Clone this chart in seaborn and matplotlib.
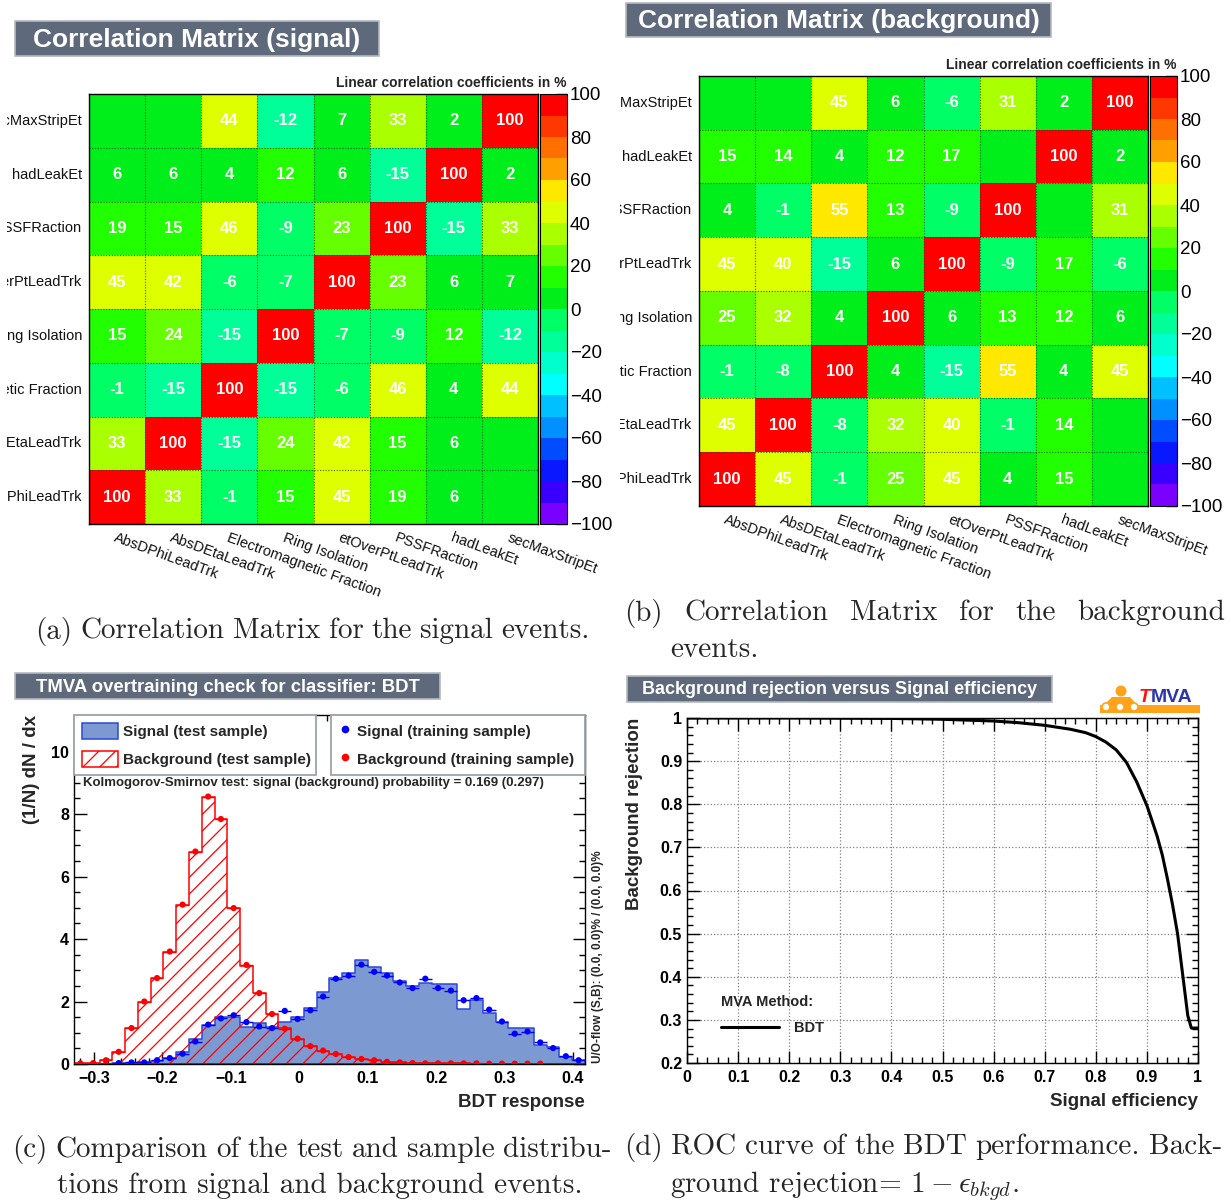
import numpy as np
import pandas as pd
import matplotlib
matplotlib.use("Agg")
import matplotlib.pyplot as plt
import seaborn as sns
from matplotlib.colors import ListedColormap
from matplotlib.patches import Rectangle, Patch, Ellipse, Polygon
from matplotlib.lines import Line2D
from matplotlib.transforms import Bbox, TransformedBbox
from matplotlib.ticker import MultipleLocator, FuncFormatter

# ---------------- data ----------------
variables = ["AbsDPhiLeadTrk", "AbsDEtaLeadTrk", "Electromagnetic Fraction",
             "Ring Isolation", "etOverPtLeadTrk", "PSSFRaction", "hadLeakEt",
             "secMaxStripEt"]

# linear correlation coefficients in %, rows/cols in the order of `variables`
signal_corr = [
    [100, 33, -1, 15, 45, 19, 6, 0],
    [33, 100, -15, 24, 42, 15, 6, 0],
    [-1, -15, 100, -15, -6, 46, 4, 44],
    [15, 24, -15, 100, -7, -9, 12, -12],
    [45, 42, -6, -7, 100, 23, 6, 7],
    [19, 15, 46, -9, 23, 100, -15, 33],
    [6, 6, 4, 12, 6, -15, 100, 2],
    [0, 0, 44, -12, 7, 33, 2, 100],
]
background_corr = [
    [100, 45, -1, 25, 45, 4, 15, 0],
    [45, 100, -8, 32, 40, -1, 14, 0],
    [-1, -8, 100, 4, -15, 55, 4, 45],
    [25, 32, 4, 100, 6, 13, 12, 6],
    [45, 40, -15, 6, 100, -9, 17, -6],
    [4, -1, 55, 13, -9, 100, 0, 31],
    [15, 14, 4, 12, 17, 0, 100, 2],
    [0, 0, 45, 6, -6, 31, 2, 100],
]
palette_colors = ["#7a00ff", "#3a00ff", "#0a18ff", "#004cff", "#0090ff",
                  "#00c0ff", "#00ffff", "#00ffcc", "#00ff99", "#00ff66",
                  "#00ee1a", "#22ff00", "#66ff00", "#aaff00", "#ddff00",
                  "#ffe800", "#ffa000", "#ff7000", "#ff3800", "#ff0000"]
colorbar_ticks = [-100, -80, -60, -40, -20, 0, 20, 40, 60, 80, 100]

# BDT response distributions, 40 bins
bdt_range = (-0.329, 0.4175)
n_bins = 40
signal_test = [0.0, 0.0, 0.0, 0.02, 0.04, 0.05, 0.1, 0.2, 0.37, 0.8,
               1.26, 1.5, 1.52, 1.2, 1.32, 1.2, 1.36, 1.5, 1.8, 2.3,
               2.75, 2.9, 3.33, 3.1, 2.9, 2.65, 2.5, 2.6, 2.55, 2.55,
               1.75, 2.05, 1.63, 1.33, 1.15, 1.15, 0.62, 0.56, 0.22, 0.14]
signal_train = [0.0, 0.0, 0.0, 0.03, 0.05, 0.05, 0.12, 0.19, 0.33, 0.72,
                1.26, 1.46, 1.56, 1.34, 1.2, 1.15, 1.7, 1.44, 1.72, 2.16,
                2.73, 2.83, 3.18, 2.95, 2.83, 2.61, 2.43, 2.73, 2.43, 2.35,
                2.04, 2.11, 1.74, 1.36, 0.97, 1.04, 0.69, 0.51, 0.25, 0.12]
background_test = [0.02, 0.03, 0.12, 0.4, 1.15, 2.0, 2.75, 3.6, 5.1, 6.8,
                   8.55, 7.85, 5.0, 3.15, 2.27, 1.6, 1.15, 0.8, 0.57, 0.43,
                   0.32, 0.22, 0.16, 0.12, 0.08, 0.05, 0.04, 0.03, 0.02, 0.02,
                   0.02, 0.01, 0.01, 0.01, 0.01, 0.01, 0.01, 0.0, 0.0, 0.0]
background_train = [0.02, 0.03, 0.12, 0.39, 1.15, 2.0, 2.75, 3.6, 5.1, 6.8,
                    8.56, 7.84, 4.99, 3.17, 2.27, 1.6, 1.13, 0.81, 0.57, 0.43,
                    0.32, 0.22, 0.16, 0.12, 0.07, 0.05, 0.03, 0.02, 0.02, 0.02,
                    0.02, 0.02, 0.01, 0.01, 0.01, 0.01, 0.01, 0.0, 0.0, 0.0]

# ROC curve
roc_signal_eff = [0.0, 0.1, 0.2, 0.3, 0.4, 0.5, 0.55, 0.6, 0.65, 0.7, 0.75,
                  0.78, 0.8, 0.82, 0.84, 0.86, 0.88, 0.9, 0.91, 0.92, 0.93,
                  0.94, 0.95, 0.96, 0.97, 0.98, 0.987, 1.0]
roc_background_rej = [1.0, 1.0, 1.0, 0.9995, 0.999, 0.997, 0.995, 0.993,
                      0.989, 0.983, 0.974, 0.966, 0.957, 0.944, 0.926, 0.897,
                      0.852, 0.797, 0.762, 0.726, 0.683, 0.628, 0.568, 0.5,
                      0.405, 0.31, 0.281, 0.281]

# ---------------- style ----------------
W, H = 1231, 1203
sns.set_theme(style="ticks")
plt.rcParams["font.family"] = ["Liberation Sans", "DejaVu Sans"]
plt.rcParams["mathtext.fontset"] = "cm"
plt.rcParams["hatch.color"] = "#ff0000"
plt.rcParams["hatch.linewidth"] = 0.9
plt.rcParams["axes.linewidth"] = 1.0
plt.rcParams["axes.edgecolor"] = "black"

fig = plt.figure(figsize=(W / 100, H / 100), dpi=100, facecolor="white")


def rect(x0, y0, x1, y1):
    return [x0 / W, 1 - y1 / H, (x1 - x0) / W, (y1 - y0) / H]


def fx(x):
    return x / W


def fy(y):
    return 1 - y / H


def title_box(x0, y0, x1, y1, text, size):
    fig.add_artist(Rectangle((fx(x0), fy(y1)), (x1 - x0) / W, (y1 - y0) / H,
                             transform=fig.transFigure, facecolor="#5e6a7c",
                             edgecolor="#b4bac2", lw=1.2))
    fig.text(fx((x0 + x1) / 2), fy((y0 + y1) / 2 + 1), text, color="white",
             fontsize=size, fontweight="bold", ha="center", va="center")


def root_number(v, _pos=None):
    v = round(v, 6)
    if abs(v) < 1e-9:
        return "0"
    return f"{v:g}".replace("-", "\u2212")


def root_ticks(ax, xmaj, xmin, ymaj, ymin):
    ax.xaxis.set_major_locator(MultipleLocator(xmaj))
    ax.xaxis.set_minor_locator(MultipleLocator(xmin))
    ax.yaxis.set_major_locator(MultipleLocator(ymaj))
    ax.yaxis.set_minor_locator(MultipleLocator(ymin))
    ax.xaxis.set_major_formatter(FuncFormatter(root_number))
    ax.yaxis.set_major_formatter(FuncFormatter(root_number))
    ax.tick_params(which="both", direction="in", top=True, right=True,
                   color="black", labelsize=11.5, labelcolor="black")
    ax.tick_params(which="major", length=9, width=1)
    ax.tick_params(which="minor", length=4.5, width=1)
    ax.tick_params(axis="x", pad=5)
    for lab in ax.get_xticklabels() + ax.get_yticklabels():
        lab.set_fontweight("bold")
    for s in ax.spines.values():
        s.set_visible(True)
        s.set_color("black")
        s.set_linewidth(1)


corr_cmap = ListedColormap(palette_colors)


def correlation_panel(values, heat_px, cbar_px, label_px, clip_x):
    ax = fig.add_axes(rect(*heat_px))
    cax = fig.add_axes(rect(*cbar_px))
    shown = np.array(values, dtype=float)[::-1]
    cell_text = np.where(shown == 0, "", shown.astype(int).astype(str))
    sns.heatmap(shown, ax=ax, cbar_ax=cax, cmap=corr_cmap, vmin=-100, vmax=100,
                annot=cell_text, fmt="",
                annot_kws={"color": "white", "fontsize": 12,
                           "fontweight": "bold"},
                linewidths=0,
                xticklabels=variables, yticklabels=variables[::-1])
    # dotted cell borders
    for k in range(1, len(variables)):
        ax.axhline(k, color="#1e3c1e", lw=0.8, ls=(0, (1, 1.5)), alpha=0.8)
        ax.axvline(k, color="#1e3c1e", lw=0.8, ls=(0, (1, 1.5)), alpha=0.8)
    ax.tick_params(length=0, pad=5)
    for lab in ax.get_xticklabels():
        lab.set(rotation=-20, ha="left", va="top", rotation_mode="anchor",
                fontsize=10.5, color="#111111")
    clip = TransformedBbox(Bbox([[fx(clip_x), 0], [1, 1]]), fig.transFigure)
    for lab in ax.get_yticklabels():
        lab.set(rotation=0, ha="right", va="center", fontsize=10.5,
                color="#111111")
        lab.set_clip_box(clip)
        lab.set_clip_on(True)
    for s in ax.spines.values():
        s.set_visible(True)
        s.set_color("black")
        s.set_linewidth(1)
    cbar = ax.collections[0].colorbar
    cbar.set_ticks(colorbar_ticks)
    cbar.outline.set_linewidth(0.8)
    cbar.outline.set_edgecolor("black")
    cax.tick_params(direction="in", length=8, width=1, labelsize=13.5, pad=2,
                    color="#222222", labelcolor="black")
    fig.text(fx(label_px[0]), fy(label_px[1]),
             "Linear correlation coefficients in %", ha="right", va="center",
             fontsize=10, fontweight="bold")


# ---------------- (a) / (b) correlation matrices ----------------
title_box(15, 21, 379, 56, "Correlation Matrix (signal)", 19)
correlation_panel(signal_corr, (89, 94, 538, 524), (540, 94, 567, 524),
                  (566, 83), 7)

title_box(626, 3, 1051, 37, "Correlation Matrix (background)", 19)
correlation_panel(background_corr, (699, 76, 1148, 506), (1150, 76, 1177, 506),
                  (1177, 65), 620)

# ---------------- (c) overtraining check ----------------
title_box(15, 673, 440, 699, "TMVA overtraining check for classifier: BDT", 13.3)
axc = fig.add_axes(rect(74, 715, 585, 1064))
edges = np.linspace(bdt_range[0], bdt_range[1], n_bins + 1)
centers = 0.5 * (edges[:-1] + edges[1:])
half_width = 0.5 * (edges[1] - edges[0])
bdt = pd.DataFrame({"response": centers,
                    "signal_test": signal_test, "signal_train": signal_train,
                    "background_test": background_test,
                    "background_train": background_train})

sig_fill, sig_line = "#7d99d1", "#2c48d8"
sns.histplot(data=bdt, x="response", weights="signal_test", bins=n_bins,
             binrange=bdt_range, element="step", fill=True, color=sig_fill,
             facecolor=sig_fill, edgecolor=sig_line, linewidth=1.1, ax=axc)
sns.histplot(data=bdt, x="response", weights="background_test", bins=n_bins,
             binrange=bdt_range, element="step", fill=True, color="#ff0000",
             facecolor="none", edgecolor="#ff0000", hatch="//",
             linewidth=1.1, ax=axc)
for col, colr in [("signal_train", "#0000ff"), ("background_train", "#ff0000")]:
    pts = bdt[bdt[col] > 0]
    axc.errorbar(pts["response"], pts[col], xerr=half_width, fmt="none",
                 ecolor=colr, elinewidth=1, zorder=4)
    sns.scatterplot(data=pts, x="response", y=col, color=colr, s=20,
                    edgecolor="none", ax=axc, zorder=5)

axc.set_xlim(*bdt_range)
axc.set_ylim(0, 11.17)
root_ticks(axc, 0.1, 0.02, 2, 0.5)
axc.set_xlabel("BDT response", loc="right", fontsize=13.5, fontweight="bold")
axc.xaxis.set_label_coords(1.0, -0.109)
axc.xaxis.label.set(va="center")
axc.set_ylabel("(1/N) dN / dx", fontsize=13.5, fontweight="bold")
axc.yaxis.label.set(rotation_mode="default", ha="center", va="top")
axc.yaxis.set_label_coords(-0.084, 1.0)

legend_font = {"weight": "bold", "size": 11}
leg1 = axc.legend(
    [Patch(facecolor=sig_fill, edgecolor=sig_line, lw=1.1),
     Patch(facecolor="white", edgecolor="#ff0000", hatch="//", lw=1.1)],
    ["Signal (test sample)", "Background (test sample)"],
    loc="upper left", bbox_to_anchor=(0, 0, (316 - 74) / 511, 1), mode="expand",
    borderaxespad=0, prop=legend_font, fancybox=False, framealpha=1,
    handlelength=2.4, handleheight=1.3, handletextpad=0.3, labelspacing=0.75,
    borderpad=0.5)
leg1.get_frame().set(edgecolor="#9ca3ab", linewidth=1.3)
axc.add_artist(leg1)
leg2 = axc.legend(
    [Line2D([], [], marker="o", ls="none", color="#0000ff", ms=4.5),
     Line2D([], [], marker="o", ls="none", color="#ff0000", ms=4.5)],
    ["Signal (training sample)", "Background (training sample)"],
    loc="upper left", bbox_to_anchor=((331 - 74) / 511, 0, (585 - 331) / 511, 1),
    mode="expand", borderaxespad=0, prop=legend_font, fancybox=False,
    framealpha=1, handlelength=0.8, handleheight=1.3, handletextpad=0.4,
    labelspacing=0.75, borderpad=0.5)
leg2.get_frame().set(edgecolor="#9ca3ab", linewidth=1.3)

fig.text(fx(83), fy(783),
         "Kolmogorov-Smirnov test: signal (background) probability = 0.169 (0.297)",
         ha="left", va="center", fontsize=9.5, fontweight="bold")
fig.text(fx(598), fy(1063), "U/O-flow (S,B): (0.0, 0.0)% / (0.0, 0.0)%",
         rotation=90, ha="center", va="bottom", fontsize=8.5, fontweight="bold")

# ---------------- (d) ROC curve ----------------
title_box(627, 676, 1052, 702, "Background rejection versus Signal efficiency", 13)
axd = fig.add_axes(rect(687, 718, 1198, 1063))
roc = pd.DataFrame({"eff": roc_signal_eff, "rej": roc_background_rej})
sns.lineplot(data=roc, x="eff", y="rej", color="black", linewidth=2.2, ax=axd)
axd.set_xlim(0, 1)
axd.set_ylim(0.2, 1)
root_ticks(axd, 0.1, 0.02, 0.1, 0.02)
axd.grid(True, which="major", linestyle=":", color="#808080", linewidth=0.9)
axd.set_xlabel("Signal efficiency", loc="right", fontsize=13.5, fontweight="bold")
axd.xaxis.set_label_coords(1.0, -0.113)
axd.xaxis.label.set(va="center")
axd.set_ylabel("Background rejection", fontsize=13.5, fontweight="bold")
axd.yaxis.label.set(rotation_mode="default", ha="center", va="top")
axd.yaxis.set_label_coords(-0.103, 1.0)
axd.legend([Line2D([], [], color="black", lw=2.2)], ["BDT"],
           title="MVA Method:", loc="upper left",
           bbox_to_anchor=((721 - 687) / 511, (1063 - 995) / 345),
           frameon=False, prop={"weight": "bold", "size": 10.5},
           title_fontproperties={"weight": "bold", "size": 10.5},
           alignment="left", handlelength=4.0, handletextpad=1.0,
           labelspacing=0.8, borderaxespad=0, borderpad=0)

# TMVA logo
logo_orange = "#ffa31a"
fig.add_artist(Rectangle((fx(1100), fy(713)), 100 / W, 8 / H,
                         transform=fig.transFigure, color=logo_orange, lw=0))
fig.add_artist(Polygon([[fx(1103), fy(706)], [fx(1112), fy(697)],
                        [fx(1130), fy(697)], [fx(1138), fy(706)]],
                       closed=True, transform=fig.transFigure,
                       color=logo_orange, lw=0))
fig.add_artist(Ellipse((fx(1121), fy(691)), 11 / W, 11 / H,
                       transform=fig.transFigure, color=logo_orange, lw=0))
for cx in (1106, 1120, 1134):
    fig.add_artist(Ellipse((fx(cx), fy(707)), 8 / W, 8 / H,
                           transform=fig.transFigure, facecolor="white",
                           edgecolor=logo_orange, lw=1.2))
fig.text(fx(1139), fy(697), "T", color="#ff1010", fontsize=14,
         fontweight="bold", fontstyle="italic", ha="left", va="center")
fig.text(fx(1151), fy(697), "MVA", color="#2a36a8", fontsize=14,
         fontweight="bold", ha="left", va="center")

# ---------------- captions ----------------
cap_size = 21
renderer = fig.canvas.get_renderer()


def caption_line(words, x0, x1, y):
    texts = [fig.text(0, fy(y), w, fontsize=cap_size, fontfamily="cmr10",
                      ha="left", va="center") for w in words]
    widths = [t.get_window_extent(renderer).width for t in texts]
    gap = ((x1 - x0) - sum(widths)) / (len(words) - 1)
    x = x0
    for t, w in zip(texts, widths):
        t.set_x(fx(x))
        x += w + gap


def caption_text(text, x0, y):
    fig.text(fx(x0), fy(y), text, fontsize=cap_size, fontfamily="cmr10",
             ha="left", va="center")


caption_line("(a) Correlation Matrix for the signal events.".split(), 35, 590, 631)
caption_line("(b) Correlation Matrix for the background".split(), 624, 1225, 613)
caption_text("events.", 670, 650)
caption_line("(c) Comparison of the test and sample distribu-".split(), 12, 612, 1150)
caption_text("tions from signal and background events.", 57, 1186)
caption_line("(d) ROC curve of the BDT performance. Back-".split(), 624, 1222, 1147)
caption_text(r"ground rejection= $1-\epsilon_{bkgd}$.", 670, 1186)

fig.savefig("out.png", dpi=100, facecolor="white")
